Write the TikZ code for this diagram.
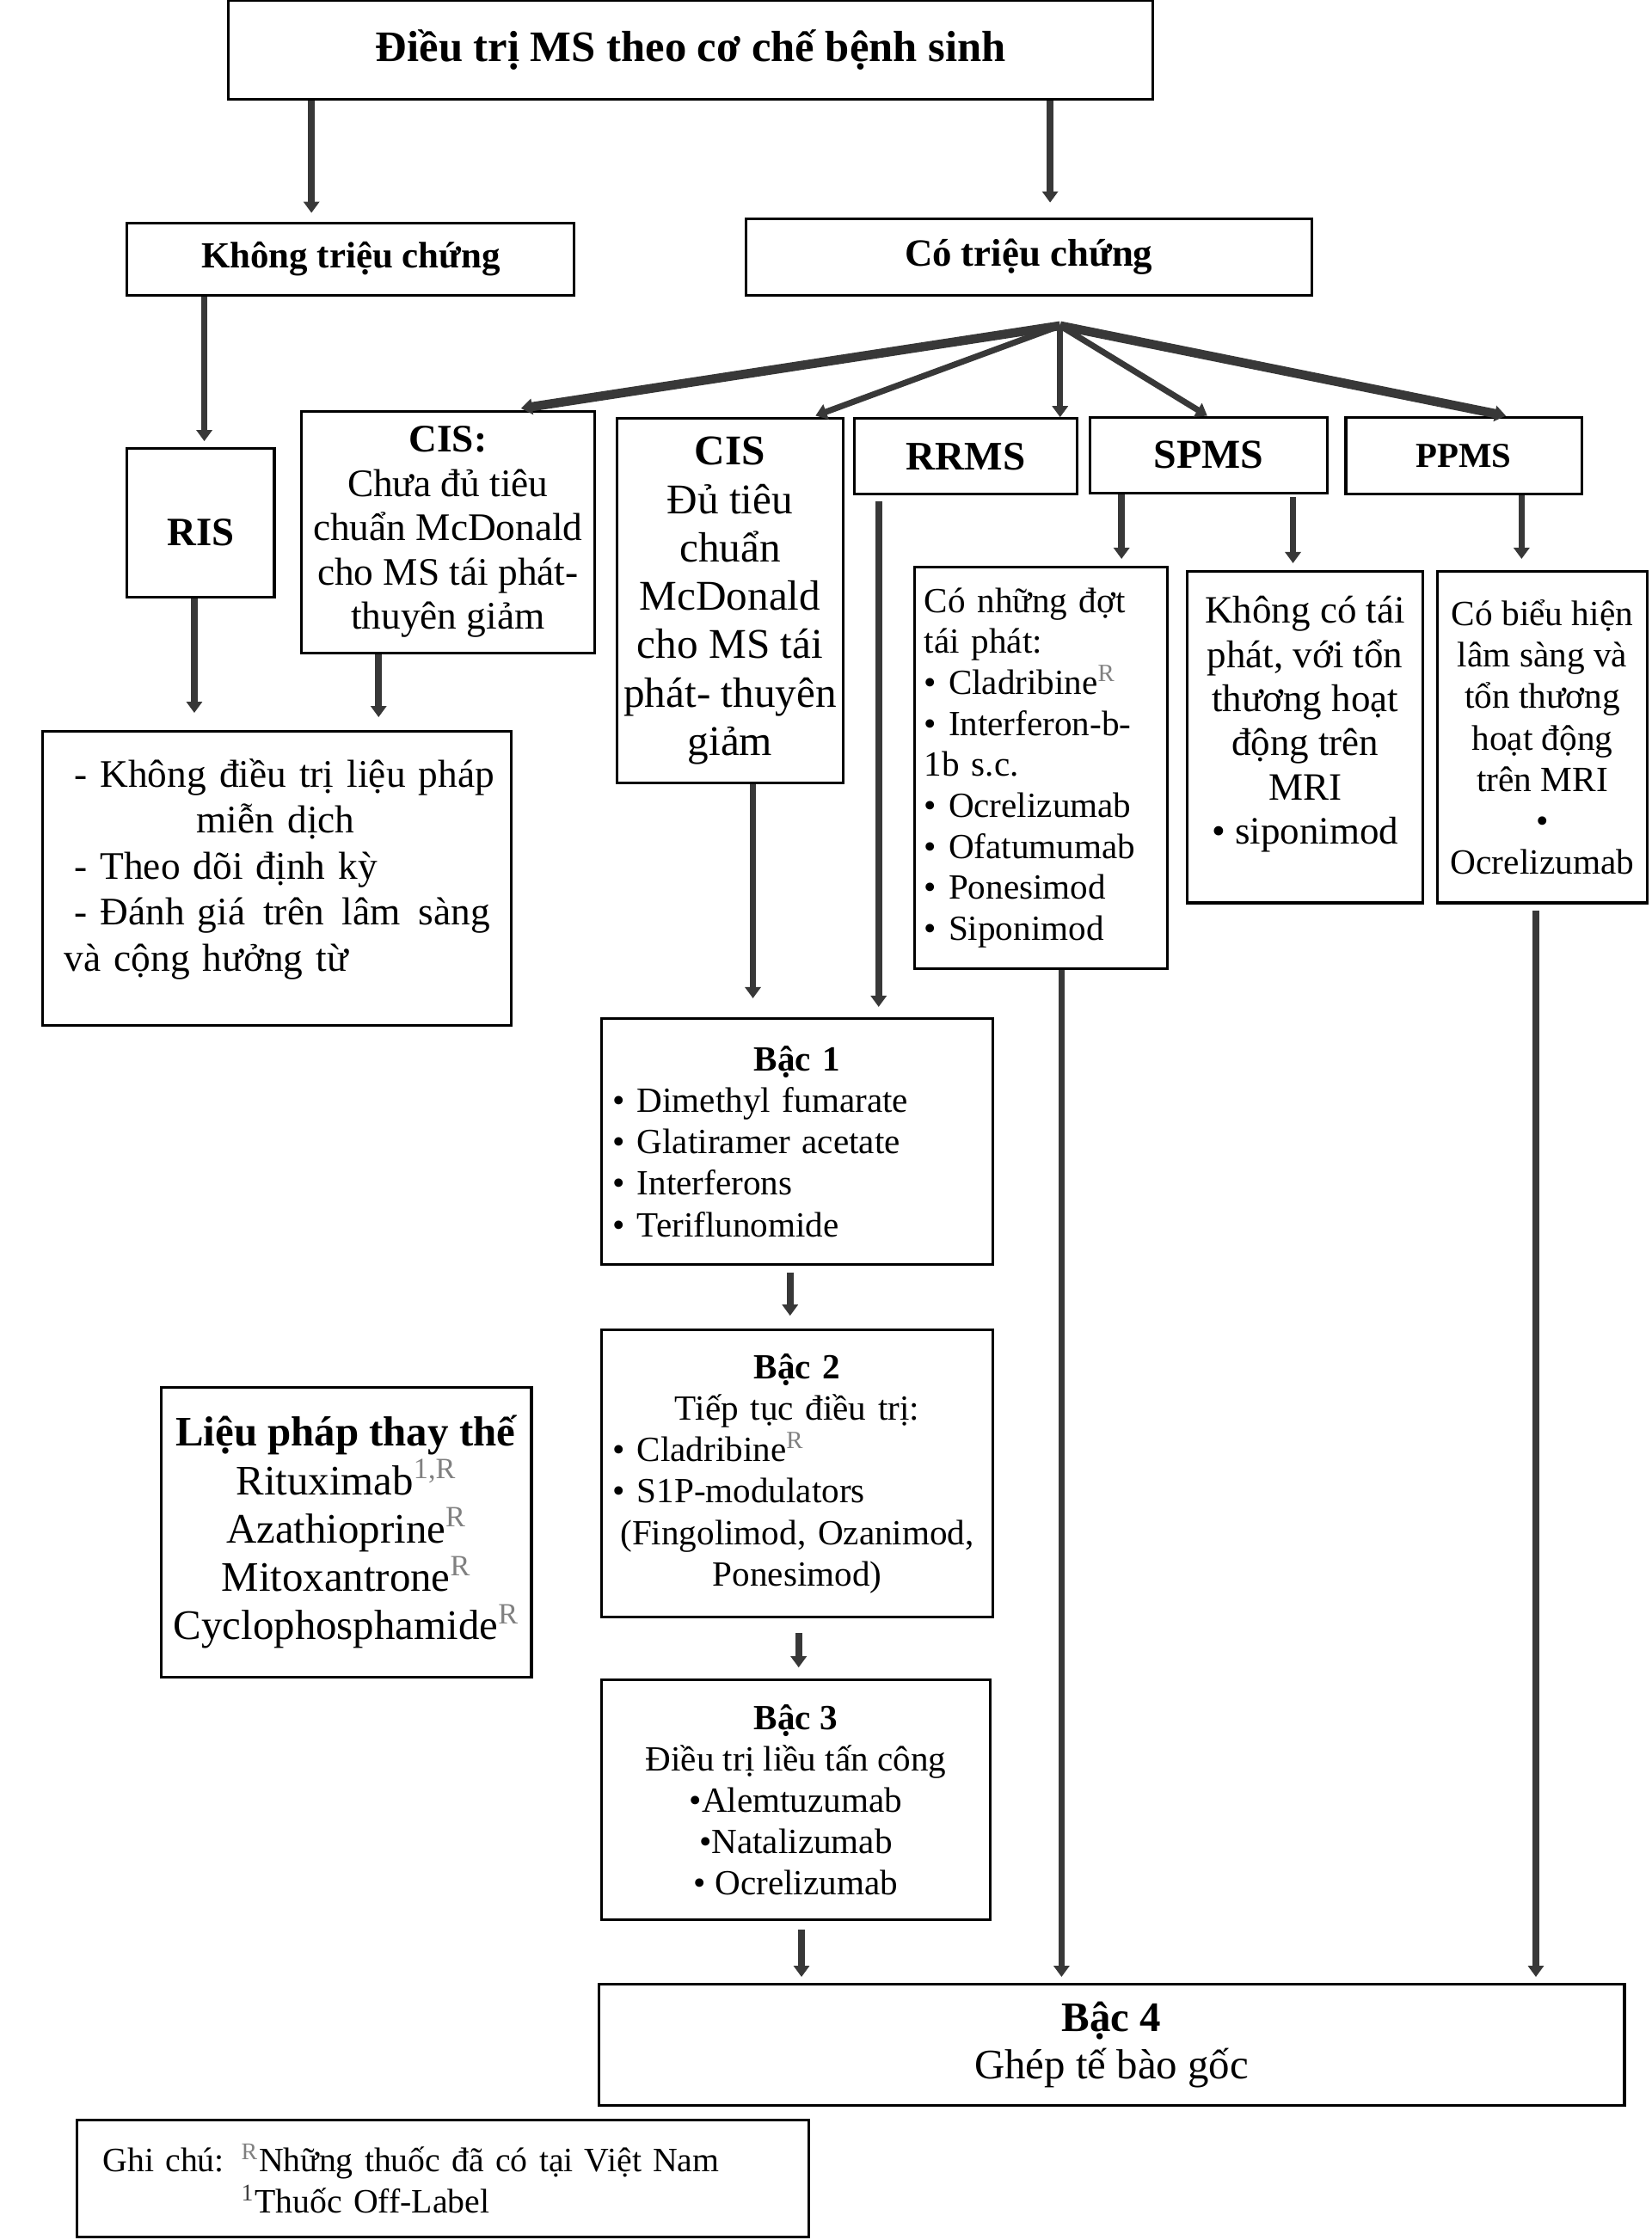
\documentclass[tikz,border=0pt]{standalone}
\usepackage{fontspec}
\setmainfont{Liberation Serif}
\usetikzlibrary{arrows.meta,calc}

\newlength\pxu
\setlength\pxu{0.16609mm}
\newcommand\fsz[2]{\fontsize{#1}{#2}\selectfont}
\newcommand\rmark{\textsuperscript{\textcolor{gray}{R}}}
\newcommand\centred[1]{\hfill#1\hfill\null}

\tikzset{
    box/.style={draw=black, line width=0.9pt, align=center, inner sep=0pt, text=black},
    sz/.style 2 args={minimum width=#1*\pxu, minimum height=#2*\pxu},
    link/.style={-{Triangle[width=1.8mm,length=1.3mm]}, draw=black!78, line width=2.2pt, shorten >=1.2mm},
    fanlink/.style={link, line width=2pt, shorten >=0pt},
    fanthick/.style={link, line width=3pt, shorten >=0pt}
}

\begin{document}
\begin{tikzpicture}[x=0.16609mm, y=-0.16609mm]
\path[use as bounding box, fill=white] (0,0) rectangle (1156,1568);

% top
\node[box, sz={647}{69}, font=\bfseries\fsz{14.4}{17}] (title) at (483.5,35) {Điều trị MS theo cơ chế bệnh sinh};
\node[box, sz={313}{51}, font=\bfseries\fsz{12.2}{14}] (khong) at (245.5,181.5) {Không triệu chứng};
\node[box, sz={396}{54}, font=\bfseries\fsz{12.75}{14}] (co) at (720,180) {Có triệu chứng};

% second row
\node[box, sz={103}{104}, text height=14.9pt, text depth=0pt, font=\bfseries\fsz{13.3}{15}] (ris) at (140.5,366) {RIS};
\node[box, sz={205}{169}, font=\fsz{12.9}{14.65}] (cisa) at (313.5,372.5) {\textbf{CIS:}\\Chưa đủ tiêu\\chuẩn McDonald\\cho MS tái phát-\\thuyên giảm};
\node[box, sz={158}{255}, font=\fsz{14}{16}] (cisb) at (511,420.5) {\textbf{CIS}\\Đủ tiêu\\chuẩn\\McDonald\\cho MS tái\\phát- thuyên\\giảm};
\node[box, sz={156}{53}, font=\bfseries\fsz{13.4}{15}] (rrms) at (676,319.5) {RRMS};
\node[box, sz={166}{53}, font=\bfseries\fsz{13.6}{15}] (spms) at (846,318.5) {SPMS};
\node[box, sz={165}{54}, font=\bfseries\fsz{11.6}{14}] (ppms) at (1024.5,319) {PPMS};

% third row
\node[box, sz={328}{206}, text width=49.5mm, text depth=70pt, align=left, font=\fsz{12.9}{15.25}] (advice) at (194,615) {\hspace*{3.3pt}\mbox{- Không điều trị liệu pháp}\\
    \hspace*{43.8pt}miễn dịch\\
    \hspace*{3.3pt}- Theo dõi định kỳ\\
    \hspace*{3.3pt}- Đánh giá\hfill trên\hfill lâm\hfill sàng\\
    và cộng hưởng từ};
\node[box, sz={177}{281}, text width=27.07mm, align=left, font=\fsz{11.7}{13.55}] (relapse) at (728.5,537.5) {Có những đợt\\tái phát:\\• Cladribine\rmark\\• Interferon-b-\\1b s.c.\\• Ocrelizumab\\• Ofatumumab\\• Ponesimod\\• Siponimod};
\node[box, sz={165}{232}] (norelapse) at (913.5,516) {};
\node[font=\fsz{12.8}{14.6}, align=center] (norelapsetext) at ([yshift=1.5mm]norelapse.center) {Không có tái\\phát, với tổn\\thương hoạt\\động trên\\MRI\\• siponimod};
\node[box, sz={147}{232}, font=\fsz{11.75}{13.7}] (ppmsbox) at (1079.5,516) {Có biểu hiện\\lâm sàng và\\tổn thương\\hoạt động\\trên MRI\\•\\Ocrelizumab};

% steps
\node[box, sz={274}{172}, text width=42.85mm, align=left, font=\fsz{11.7}{13.7}] (step1) at (558,799) {\centred{\textbf{Bậc 1}}\\• Dimethyl fumarate\\• Glatiramer acetate\\• Interferons\\• Teriflunomide};
\node[box, sz={274}{201}, text width=42.85mm, align=left, font=\fsz{11.7}{13.7}] (step2) at (558,1031.5) {\centred{\textbf{Bậc 2}}\\\centred{Tiếp tục điều trị:}\\• Cladribine\rmark\\• S1P-modulators\\\centred{(Fingolimod, Ozanimod,}\\\centred{Ponesimod)}};
\node[box, sz={272}{168}, font=\fsz{11.7}{13.7}] (step3) at (557,1260) {\textbf{Bậc 3}\\Điều trị liều tấn công\\•Alemtuzumab\\•Natalizumab\\• Ocrelizumab};
\node[box, sz={718}{85}, font=\fsz{13.9}{15.6}] (step4) at (778,1431.5) {\textbf{Bậc 4}\\Ghép tế bào gốc};

% side boxes
\node[box, sz={259}{203}, font=\fsz{13.9}{16}] (alt) at (242.5,1072.5) {\textbf{Liệu pháp thay thế}\\Rituximab\textsuperscript{\textcolor{gray}{1,R}}\\Azathioprine\rmark\\Mitoxantrone\rmark\\Cyclophosphamide\rmark};
\node[box, sz={512}{82}, text width=79.06mm, align=left, font=\fsz{11.3}{13.7}] (note) at (310,1525) {Ghi chú: \rmark Những thuốc đã có tại Việt Nam\\\phantom{Ghi chú: }\textsuperscript{\textcolor{darkgray}{1}}Thuốc Off-Label};

% arrows
\coordinate (fan) at (742,228);
\draw[link, shorten >=1mm] (title.south -| 218,0) -- (khong.north -| 218,0);
\draw[link, shorten >=1.7mm] (title.south -| 735,0) -- (co.north -| 735,0);
\draw[link, shorten >=0.7mm] (khong.south -| 143,0) -- (ris.north -| 143,0);
\draw[fanthick, shorten >=1.3mm] (fan) -- (cisa.north -| 357,0);
\draw[fanlink, shorten >=0.5mm] (fan) -- (cisb.north -| 568,0);
\draw[fanlink] (fan) -- (fan |- rrms.north);
\draw[fanlink] (fan) -- (spms.north -| 845,0);
\draw[fanthick] (fan) -- (ppms.north -| 1054,0);
\draw[link, shorten >=2mm] (ris.south -| 136,0) -- (advice.north -| 136,0);
\draw[link, shorten >=1.5mm] (cisa.south -| 265,0) -- (advice.north -| 265,0);
\draw[link, shorten >=0.8mm] (spms.south -| 785,0) -- (relapse.north -| 785,0);
\draw[link, shorten <=0.3mm, shorten >=0.8mm] (spms.south -| 905,0) -- (norelapse.north -| 905,0);
\draw[link, shorten >=1.3mm] (ppms.south -| 1065,0) -- (ppmsbox.north -| 1065,0);
\draw[link, shorten >=2.2mm] (cisb.south -| 527,0) -- (step1.north -| 527,0);
\draw[link, shorten <=0.7mm] (rrms.south -| 615,0) -- (step1.north -| 615,0);
\draw[link, shorten <=0.8mm, shorten >=1.5mm] (step1.south -| 553,0) -- (step2.north -| 553,0);
\draw[link, shorten <=1.7mm, shorten >=1.3mm] (step2.south -| 559,0) -- (step3.north -| 559,0);
\draw[link, shorten <=1mm, shorten >=0.7mm] (step3.south -| 561,0) -- (step4.north -| 561,0);
\draw[link, shorten >=0.7mm] (relapse.south -| 743,0) -- (step4.north -| 743,0);
\draw[link, shorten <=0.7mm, shorten >=0.7mm] (ppmsbox.south -| 1075,0) -- (step4.north -| 1075,0);

\end{tikzpicture}
\end{document}
